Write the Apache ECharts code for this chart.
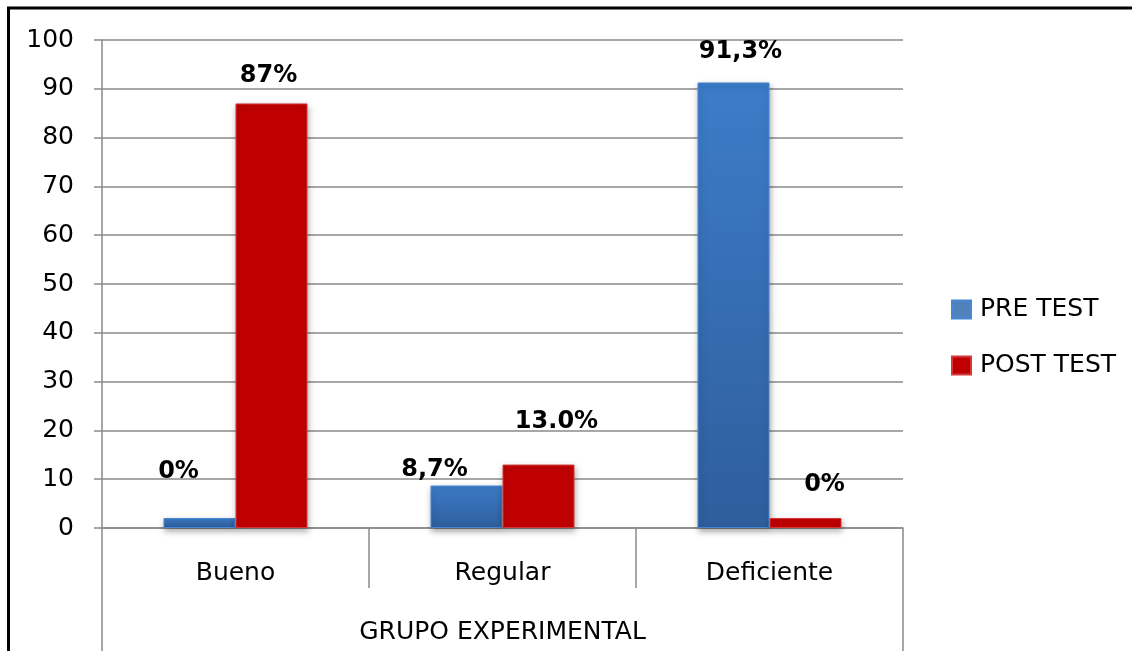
<!DOCTYPE html>
<html>
<head>
<meta charset="utf-8">
<title>GRUPO EXPERIMENTAL</title>
<script src="https://cdn.jsdelivr.net/npm/echarts@6/dist/echarts.min.js"></script>
<style>
  html, body { margin: 0; padding: 0; background: #ffffff; }
  #chart { width: 1132px; height: 651px; }
</style>
</head>
<body>
<div id="chart"></div>
<script>
// Categories and values (percent)
const categories = ['Bueno', 'Regular', 'Deficiente'];
const groupName = ['GRUPO EXPERIMENTAL'];
const seriesNames = ['PRE TEST', 'POST TEST'];
const preTest = [0, 8.7, 91.3];
const postTest = [87, 13.0, 0];
const preLabels = ['0%', '8,7%', '91,3%'];
const postLabels = ['87%', '13.0%', '0%'];
const yTicks = [0, 10, 20, 30, 40, 50, 60, 70, 80, 90, 100];

// Label nudges (px) relative to the top of each bar
const preOffsets = [[-21, -34], [-32, -4], [7, -19]];
const postOffsets = [[-3, -16], [18, -31], [19, -21]];

const FONT = '"DejaVu Sans", "Open Sans", sans-serif';
const GRID_COLOR = '#8a8a8a';

function buildData(values, labels, offsets) {
  return values.map((v, i) => ({
    value: v,
    label: { formatter: labels[i], offset: offsets[i] }
  }));
}

const labelStyle = {
  show: true,
  position: 'top',
  distance: 0,
  fontFamily: FONT,
  fontSize: 24,
  fontWeight: 'bold',
  color: '#000'
};

const chart = echarts.init(document.getElementById('chart'), null, { renderer: 'canvas' });

chart.setOption({
  animation: false,
  backgroundColor: '#ffffff',
  textStyle: { fontFamily: FONT },
  grid: { left: 102, right: 229, top: 40, bottom: 123, containLabel: false },
  legend: {
    orient: 'vertical',
    left: 946,
    top: 292,
    itemWidth: 19,
    itemHeight: 18,
    itemGap: 31,
    icon: 'rect',
    textStyle: { fontFamily: FONT, fontSize: 25, color: '#000', padding: [0, 0, 0, 4] },
    data: [
      { name: seriesNames[0], itemStyle: { color: '#4f81bd' } },
      { name: seriesNames[1], itemStyle: { color: '#c00000' } }
    ]
  },
  xAxis: [
    {
      type: 'category',
      data: categories,
      position: 'bottom',
      axisLine: { show: true, lineStyle: { color: GRID_COLOR, width: 1.5 } },
      axisTick: { show: true, interval: 0, length: 60, lineStyle: { color: GRID_COLOR, width: 1.5 } },
      axisLabel: { fontFamily: FONT, fontSize: 25, color: '#000', margin: 33 }
    },
    {
      type: 'category',
      data: groupName,
      position: 'bottom',
      offset: 60,
      axisLine: { show: false },
      axisTick: { show: true, interval: 0, length: 63, lineStyle: { color: GRID_COLOR, width: 1.5 } },
      axisLabel: { fontFamily: FONT, fontSize: 25, color: '#000', margin: 32 }
    }
  ],
  yAxis: {
    type: 'value',
    min: yTicks[0],
    max: yTicks[yTicks.length - 1],
    interval: yTicks[1] - yTicks[0],
    axisLine: { show: true, lineStyle: { color: GRID_COLOR, width: 1.5 } },
    axisTick: { show: true, length: 8, lineStyle: { color: GRID_COLOR, width: 1.5 } },
    splitLine: { show: true, lineStyle: { color: GRID_COLOR, width: 1.5 } },
    axisLabel: { fontFamily: FONT, fontSize: 25, color: '#000', margin: 28 }
  },
  series: [
    {
      name: seriesNames[0],
      type: 'bar',
      xAxisIndex: 0,
      barWidth: 72,
      barGap: '0%',
      barMinHeight: 10,
      data: buildData(preTest, preLabels, preOffsets),
      label: labelStyle,
      itemStyle: {
        color: new echarts.graphic.LinearGradient(0, 0, 0, 1, [
          { offset: 0, color: '#3d7cc9' },
          { offset: 1, color: '#2e5e9c' }
        ]),
        borderColor: '#4a87d2',
        borderWidth: 1,
        shadowBlur: 6,
        shadowColor: 'rgba(0,0,0,0.35)',
        shadowOffsetX: 1,
        shadowOffsetY: 3
      }
    },
    {
      name: seriesNames[1],
      type: 'bar',
      xAxisIndex: 0,
      barWidth: 72,
      barGap: '0%',
      barMinHeight: 10,
      data: buildData(postTest, postLabels, postOffsets),
      label: labelStyle,
      itemStyle: {
        color: '#c00000',
        borderColor: '#d23a3a',
        borderWidth: 1,
        shadowBlur: 6,
        shadowColor: 'rgba(0,0,0,0.3)',
        shadowOffsetX: 1,
        shadowOffsetY: 3
      }
    }
  ],
  graphic: [
    {
      type: 'polyline',
      silent: true,
      shape: { points: [[8.5, 651], [8.5, 8], [1132, 8]] },
      style: { stroke: '#000', lineWidth: 3, fill: null }
    }
  ]
});
</script>
</body>
</html>
